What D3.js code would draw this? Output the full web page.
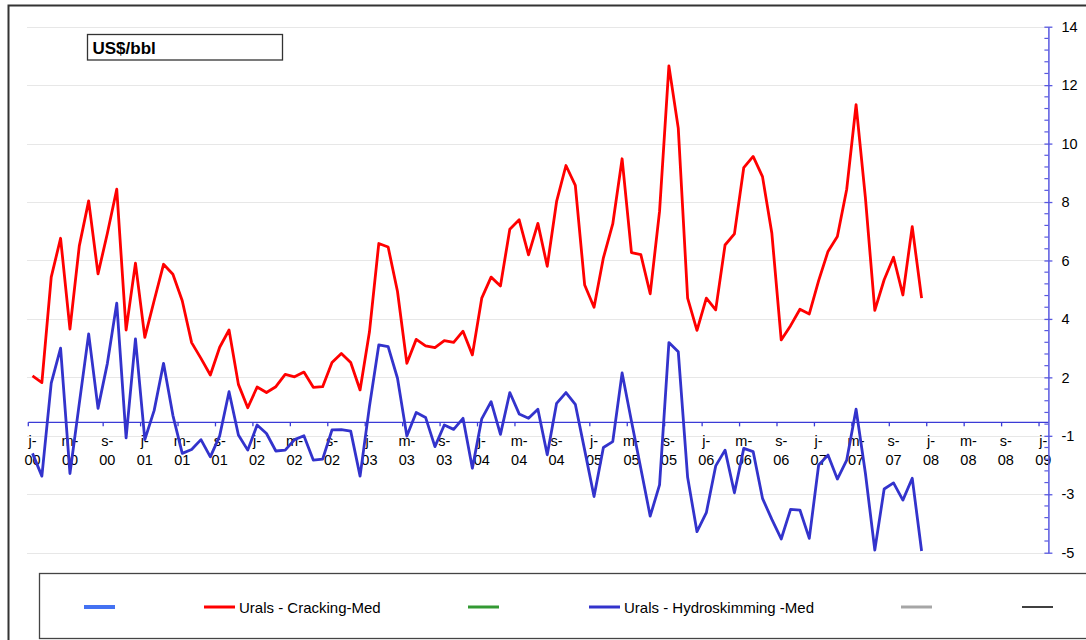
<!DOCTYPE html>
<html>
<head>
<meta charset="utf-8">
<script src="https://cdn.jsdelivr.net/npm/d3@7"></script>
<style>
  body { margin: 0; background: #fff; }
  svg { display: block; font-family: "Liberation Sans", Arial, sans-serif; }
</style>
</head>
<body>
<svg id="chart" width="1086" height="640"></svg>
<script>
// ---------------- DATA ----------------
const years = ["2000","2001","2002","2003","2004","2005","2006","2007","2008","2009"];
const monthNums = ["01","02","03","04","05","06","07","08","09","10","11","12"];
const monthInitials = { "01": "j", "05": "m", "09": "s" };
const lastCategory = "2009-01";

// Urals - Cracking-Med (Jan 2000 .. Dec 2007), positions on the value axis
const crackingMed = [
  2.05, 1.82, 5.43, 6.76, 3.65, 6.50, 8.04, 5.54, 6.93, 8.44, 3.62, 5.91,
  3.37, 4.63, 5.87, 5.53, 4.62, 3.19, 2.65, 2.08, 3.03, 3.62, 1.76, 0.96,
  1.67, 1.48, 1.68, 2.10, 2.02, 2.18, 1.66, 1.68, 2.51, 2.82, 2.51, 1.57,
  3.55, 6.58, 6.46, 4.94, 2.48, 3.30, 3.08, 3.02, 3.26, 3.20, 3.58, 2.77,
  4.71, 5.43, 5.13, 7.07, 7.39, 6.19, 7.27, 5.80, 8.02, 9.25, 8.57, 5.16,
  4.40, 6.09, 7.25, 9.48, 6.27, 6.20, 4.86, 7.68, 12.66, 10.53, 4.71, 3.61,
  4.71, 4.31, 6.53, 6.91, 9.18, 9.56, 8.87, 6.93, 3.28, 3.77, 4.33, 4.17,
  5.31, 6.31, 6.82, 8.44, 11.33, 8.13, 4.29, 5.34, 6.11, 4.82, 7.16, 4.71
];

// Urals - Hydroskimming -Med (Jan 2000 .. Dec 2007)
const hydroskimmingMed = [
  -0.60, -1.38, 1.80, 3.00, -1.29, 1.11, 3.49, 0.94, 2.48, 4.54, -0.07, 3.32,
  -0.13, 0.87, 2.48, 0.70, -0.60, -0.47, -0.13, -0.72, 0.00, 1.51, 0.03, -0.49,
  0.37, 0.08, -0.52, -0.49, -0.13, 0.00, -0.83, -0.80, 0.20, 0.21, 0.16, -1.38,
  1.00, 3.11, 3.05, 1.97, -0.01, 0.80, 0.63, -0.37, 0.37, 0.22, 0.60, -1.11,
  0.58, 1.17, 0.05, 1.48, 0.75, 0.60, 0.91, -0.65, 1.11, 1.48, 1.08, -0.49,
  -2.08, -0.40, -0.20, 2.15, 0.50, -1.12, -2.75, -1.68, 3.19, 2.88, -1.42, -3.28,
  -2.63, -1.03, -0.49, -1.95, -0.43, -0.54, -2.14, -2.86, -3.53, -2.52, -2.54, -3.51,
  -1.00, -0.66, -1.48, -0.83, 0.91, -1.29, -3.91, -1.82, -1.61, -2.20, -1.45, -3.94
];

// value-axis ticks (positions) and the labels printed beside them
const yTickValues = [14, 12, 10, 8, 6, 4, 2, 0, -2, -4];
const yTickLabels = ["14", "12", "10", "8", "6", "4", "2", "-1", "-3", "-5"];
const categoryAxisCross = 0.46;

const legendNames  = ["", "Urals - Cracking-Med", "", "Urals - Hydroskimming -Med", "", ""];
const legendColors = ["#4472f2", "#ff0000", "#339933", "#3333cc", "#a6a6a6", "#000000"];
const titleText = "US$/bbl";

// ---------------- BUILD ----------------
const categories = [];
years.forEach(y => monthNums.forEach(m => {
  const key = y + "-" + m;
  if (key <= lastCategory) categories.push(key);
}));
const tickCategories = categories.filter(c => monthInitials[c.slice(5)]);

const svg = d3.select("#chart");

const x = d3.scaleBand().domain(categories).range([28.3, 1048.4]).paddingInner(0).paddingOuter(0);
const xp = c => x(c) + x.bandwidth() * 0.45;
const y = d3.scaleLinear().domain([-4, 14]).range([552.7, 26.7]);

// outer frame (top & left visible)
svg.append("path")
  .attr("d", "M8.5,641 V5.5 H1090")
  .attr("fill", "none").attr("stroke", "#333").attr("stroke-width", 2);

// gridlines
svg.append("g").selectAll("line").data(yTickValues).join("line")
  .attr("x1", 27.5).attr("x2", 1048.4)
  .attr("y1", d => Math.round(y(d)) + 0.5).attr("y2", d => Math.round(y(d)) + 0.5)
  .attr("stroke", "#cfcfcf").attr("stroke-width", 1).attr("stroke-dasharray", "1,1");

// title box
svg.append("rect").attr("x", 87.5).attr("y", 34.5).attr("width", 195).attr("height", 25.5)
  .attr("fill", "#fff").attr("stroke", "#333").attr("stroke-width", 1.3);
svg.append("text").attr("x", 92.5).attr("y", 53.5)
  .attr("font-size", 17).attr("font-weight", "bold").attr("fill", "#000").text(titleText);

// category axis
const axisColor = "#3b3bd6";
const catY = y(categoryAxisCross);
svg.append("line").attr("x1", 28.3).attr("x2", 1048.4).attr("y1", catY).attr("y2", catY)
  .attr("stroke", axisColor).attr("stroke-width", 1.3);
const catG = svg.append("g");
catG.selectAll("line").data(tickCategories).join("line")
  .attr("x1", d => x(d)).attr("x2", d => x(d))
  .attr("y1", catY).attr("y2", catY + 4)
  .attr("stroke", axisColor).attr("stroke-width", 1.3);
const catText = catG.selectAll("text").data(tickCategories).join("text")
  .attr("font-size", 14.5).attr("fill", "#000").attr("text-anchor", "middle");
catText.append("tspan").attr("x", d => xp(d)).attr("y", 446)
  .text(d => monthInitials[d.slice(5)] + "-");
catText.append("tspan").attr("x", d => xp(d)).attr("y", 465)
  .text(d => d.slice(2, 4));

// right value axis
const rightG = svg.append("g").attr("transform", "translate(1048.4,0)");
rightG.call(d3.axisRight(y).tickValues(yTickValues)
  .tickFormat((d, i) => yTickLabels[i]).tickSizeInner(4).tickSizeOuter(0).tickPadding(9));
rightG.select(".domain").attr("stroke", "#5858e0").attr("stroke-width", 1.5);
rightG.selectAll(".tick line").attr("x1", -4).attr("x2", 4).attr("stroke", "#5858e0").attr("stroke-width", 1.3);
rightG.selectAll(".tick text").attr("font-size", 14.5).attr("fill", "#000")
  .attr("font-family", "'Liberation Sans', Arial, sans-serif");
const minorTicks = d3.range(-4, 14.001, 0.4).filter(v => Math.abs(v / 2 - Math.round(v / 2)) > 0.01);
rightG.append("g").selectAll("line").data(minorTicks).join("line")
  .attr("x1", -4).attr("x2", 0).attr("y1", d => y(d)).attr("y2", d => y(d))
  .attr("stroke", "#5858e0").attr("stroke-width", 1.2);

// series lines
const line = d3.line().x((d, i) => xp(categories[i])).y(d => y(d));
svg.append("path").datum(hydroskimmingMed).attr("d", line)
  .attr("fill", "none").attr("stroke", "#3333cc").attr("stroke-width", 2.8).attr("stroke-linejoin", "round");
svg.append("path").datum(crackingMed).attr("d", line)
  .attr("fill", "none").attr("stroke", "#ff0000").attr("stroke-width", 2.8).attr("stroke-linejoin", "round");

// legend
svg.append("rect").attr("x", 39.5).attr("y", 573.5).attr("width", 1060).attr("height", 65)
  .attr("fill", "#fff").attr("stroke", "#444").attr("stroke-width", 1.3);
const legendX = [84, 204, 468, 589, 901, 1022];
const legendG = svg.append("g").selectAll("g").data(legendNames).join("g")
  .attr("transform", (d, i) => `translate(${legendX[i]},607)`);
legendG.append("line").attr("x1", 0).attr("x2", 31).attr("y1", 0).attr("y2", 0)
  .attr("stroke", (d, i) => legendColors[i])
  .attr("stroke-width", (d, i) => i === 0 ? 4 : (i === 5 ? 1.5 : 3));
legendG.append("text").attr("x", 35).attr("y", 5.5).attr("font-size", 15).attr("fill", "#000")
  .text(d => d);
</script>
</body>
</html>
